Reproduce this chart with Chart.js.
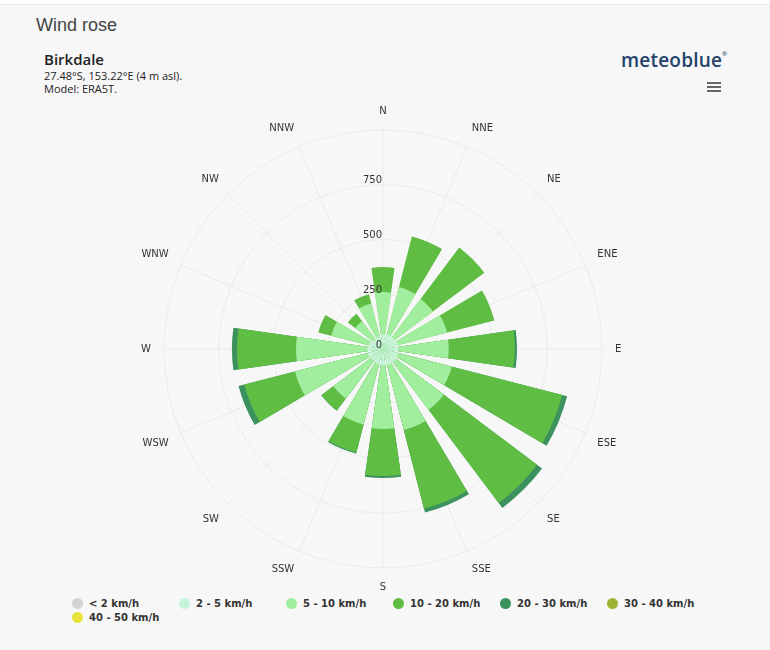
<!DOCTYPE html>
<html>
<head>
<meta charset="utf-8">
<script src="https://cdn.jsdelivr.net/npm/chart.js@4.4.1/dist/chart.umd.min.js"></script>
<style>
  html, body { margin: 0; padding: 0; }
  body { width: 770px; height: 650px; background: #f7f7f7; position: relative; overflow: hidden; font-family: "Open Sans", sans-serif; }
  .topbar { position: absolute; left: 0; top: 0; width: 770px; height: 4px; background: #fff; border-bottom: 1px solid #e6e6e6; }
  .title { position: absolute; left: 36px; top: 15px; font: 18px "Liberation Sans", Arial, sans-serif; color: #444; }
  .place { position: absolute; left: 44px; top: 49px; font-size: 15px; font-weight: 600; color: #222; }
  .meta { position: absolute; left: 44px; top: 69px; font-size: 11px; line-height: 13px; color: #222; }
  .logo { position: absolute; left: 621px; top: 47px; font-size: 19px; font-weight: 600; color: #24426a; letter-spacing: 0.2px; }
  .logo sup { font-size: 6px; vertical-align: top; position: relative; top: 3px; }
  .menu { position: absolute; left: 707px; top: 82px; width: 14px; }
  .menu span { display: block; height: 2px; background: #666; margin-bottom: 2px; }
  #rose { position: absolute; left: 0; top: 105px; }
  #legend { position: absolute; left: 72px; top: 596px; width: 660px; display: flex; flex-wrap: wrap; font: bold 10px "DejaVu Sans", sans-serif; color: #333; }
  #legend .item { width: 107px; height: 14px; display: flex; align-items: center; }
  #legend .dot { width: 11px; height: 11px; border-radius: 50%; margin-right: 6px; }
</style>
</head>
<body>
<div class="topbar"></div>
<div class="title">Wind rose</div>
<div class="place">Birkdale</div>
<div class="meta">27.48°S, 153.22°E (4 m asl).<br>Model: ERA5T.</div>
<div class="logo">meteoblue<sup>®</sup></div>
<div class="menu"><span></span><span></span><span></span></div>
<canvas id="rose" width="770" height="488"></canvas>
<div id="legend"></div>

<script>
const directions = ['N', 'NNE', 'NE', 'ENE', 'E', 'ESE', 'SE', 'SSE', 'S', 'SSW', 'SW', 'WSW', 'W', 'WNW', 'NW', 'NNW'];
const speedBands = ['< 2 km/h', '2 - 5 km/h', '5 - 10 km/h', '10 - 20 km/h', '20 - 30 km/h', '30 - 40 km/h', '40 - 50 km/h'];
const bandColors = ['#d4d4d4', '#c6f4da', '#a2ee9f', '#60bd43', '#3b925f', '#9cb333', '#e8e33a'];

// values per direction, N clockwise
const calm     = [3, 3, 3, 4, 4, 4, 4, 4, 4, 3, 3, 4, 4, 3, 2, 3];
const speed2_5 = [62, 65, 65, 66, 66, 68, 71, 71, 71, 69, 65, 68, 68, 62, 53, 57];
const speed5_10 = [195, 224, 217, 232, 230, 252, 272, 307, 290, 284, 215, 343, 325, 179, 104, 155];
const speed10_20 = [114, 238, 294, 223, 302, 521, 533, 371, 215, 132, 67, 239, 270, 61, 42, 43];
const speed20_30 = [0, 0, 0, 0, 10, 23, 28, 18, 9, 5, 2, 27, 23, 0, 0, 0];
const speed30_40 = [0, 0, 0, 0, 0, 0, 0, 0, 0, 0, 0, 0, 0, 0, 0, 0];
const speed40_50 = [0, 0, 0, 0, 0, 0, 0, 0, 0, 0, 0, 0, 0, 0, 0, 0];

const tickValues = [0, 250, 500, 750];
const axisMax = 1000;
const wedgeShare = 0.72; // part of each sector that the bar fills

const bandValues = [calm, speed2_5, speed5_10, speed10_20, speed20_30, speed30_40, speed40_50];

// stack the bands: each dataset reaches the running total, smaller ones drawn on top
const running = directions.map(() => 0);
const datasets = bandValues.map((vals, b) => {
  const data = vals.map((v, i) => (running[i] += v));
  return {
    label: speedBands[b],
    data: data,
    backgroundColor: vals.map(v => v > 0 ? bandColors[b] : 'rgba(0,0,0,0)'),
    borderWidth: 0
  };
});

// center each wedge on its direction and leave a gap between them
const wedgePlugin = {
  id: 'wedges',
  afterDatasetsUpdate(chart) {
    const step = 2 * Math.PI / directions.length;
    const half = step * wedgeShare / 2;
    chart.data.datasets.forEach((ds, i) => {
      chart.getDatasetMeta(i).data.forEach(arc => {
        const mid = (arc.startAngle + arc.endAngle) / 2 - step / 2;
        arc.startAngle = mid - half;
        arc.endAngle = mid + half;
      });
    });
  },
  afterDatasetsDraw(chart) {
    const scale = chart.scales.r;
    const ctx = chart.ctx;
    ctx.save();
    ctx.font = '10px "DejaVu Sans"';
    ctx.fillStyle = '#333';
    ctx.textAlign = 'right';
    ctx.textBaseline = 'bottom';
    tickValues.forEach(v => {
      const r = scale.getDistanceFromCenterForValue(v);
      ctx.fillText(String(v), scale.xCenter - 1, scale.yCenter - r + 1);
    });
    ctx.restore();
  }
};

const chart = new Chart(document.getElementById('rose'), {
  type: 'polarArea',
  data: { labels: directions, datasets: datasets },
  plugins: [wedgePlugin],
  options: {
    responsive: false,
    animation: false,
    layout: { padding: { right: 4 } },
    plugins: {
      legend: { display: false },
      tooltip: { enabled: false }
    },
    scales: {
      r: {
        min: 0,
        max: axisMax,
        ticks: { stepSize: 250, display: false },
        grid: { circular: true, color: '#eaeaea' },
        angleLines: { display: true, color: '#eaeaea' },
        pointLabels: {
          display: true,
          padding: 13,
          color: '#333',
          font: { family: 'DejaVu Sans', size: 10 }
        }
      }
    }
  }
});

const legend = document.getElementById('legend');
speedBands.forEach((name, i) => {
  legend.innerHTML += `<div class="item"><span class="dot" style="background:${bandColors[i]}"></span>${name}</div>`;
});
</script>
</body>
</html>
